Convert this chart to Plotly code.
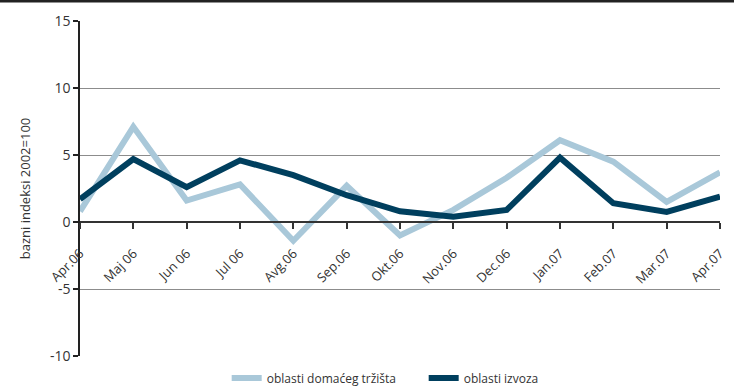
import plotly.graph_objects as go

months = ["Apr.06", "Maj 06", "Jun 06", "Jul 06", "Avg.06", "Sep.06", "Okt.06",
          "Nov.06", "Dec.06", "Jan.07", "Feb.07", "Mar.07", "Apr.07"]
domestic = [0.8, 7.1, 1.6, 2.8, -1.4, 2.7, -1.0, 0.9, 3.3, 6.1, 4.5, 1.5, 3.7]
export = [1.7, 4.7, 2.6, 4.6, 3.5, 2.0, 0.8, 0.4, 0.9, 4.8, 1.4, 0.75, 1.9]
y_ticks = [-10, -5, 0, 5, 10, 15]

FONT = "Open Sans"
TXT = "#333333"

fig = go.Figure()
fig.add_trace(go.Scatter(
    x=months, y=domestic, mode="lines", name="oblasti domaćeg tržišta",
    line=dict(color="#A9C8D9", width=6),
))
fig.add_trace(go.Scatter(
    x=months, y=export, mode="lines", name="oblasti izvoza",
    line=dict(color="#003F5E", width=6),
))

fig.update_layout(
    width=734, height=388,
    margin=dict(l=80, r=14, t=21, b=32, autoexpand=False),
    paper_bgcolor="white", plot_bgcolor="white",
    font=dict(family=FONT, size=12, color=TXT),
    showlegend=True,
    legend=dict(
        orientation="h", x=0.537, xanchor="center", y=-0.066, yanchor="middle",
        font=dict(family=FONT, size=12, color=TXT),
        itemwidth=30, tracegroupgap=0,
        entrywidth=152, entrywidthmode="pixels",
    ),
    xaxis=dict(
        type="category", range=[0, 12],
        anchor="free", position=0.4,
        showline=True, linecolor="#333333", linewidth=1.5,
        ticks="outside", ticklen=6, tickcolor="#333333", tickwidth=1.5,
        tickangle=-45, showgrid=False, zeroline=False,
        ticklabelstandoff=12,
        tickfont=dict(family=FONT, size=13, color=TXT),
    ),
    yaxis=dict(
        range=[-10, 15], tickvals=y_ticks, ticktext=[str(v) for v in y_ticks],
        showline=True, linecolor="#222222", linewidth=1.5,
        ticks="outside", ticklen=5, tickcolor="#222222", tickwidth=1.5,
        showgrid=True, gridcolor="#8C8C8C", gridwidth=1,
        zeroline=False,
        tickfont=dict(family=FONT, size=14, color=TXT),
        title=dict(text="bazni indeksi 2002=100", standoff=16,
                   font=dict(family=FONT, size=13, color=TXT)),
    ),
)

# dark rule across the top edge of the page
fig.add_shape(type="rect", xref="paper", yref="paper",
              x0=-0.2, x1=1.2, y0=1.0 + 18.5 / 335, y1=1.2,
              fillcolor="#222222", line_width=0, layer="above")

fig.write_html("out.html")
